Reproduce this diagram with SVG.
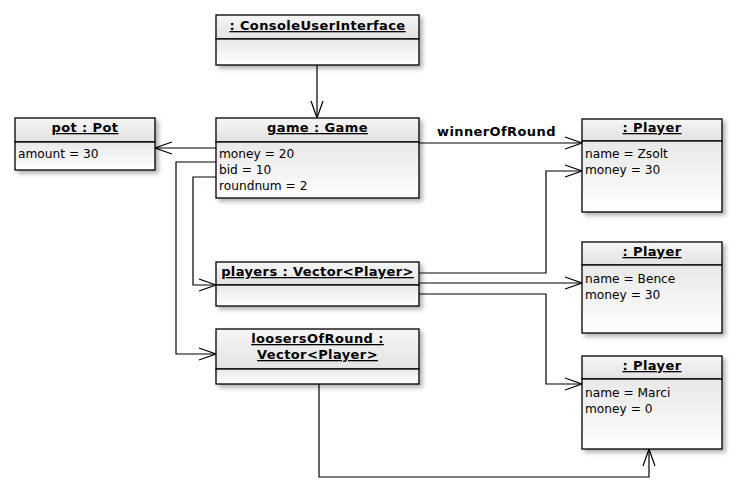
<svg xmlns="http://www.w3.org/2000/svg" width="737" height="501" viewBox="0 0 737 501">
<style>
.box{stroke:#000;stroke-width:1.3}
.hd{fill:url(#gh)}
.bd{fill:url(#gb)}
.title{font-family:"DejaVu Sans",Verdana,sans-serif;font-size:13px;letter-spacing:0.4px;font-weight:bold;text-decoration:underline;text-anchor:middle;fill:#000}
.attr{font-family:"DejaVu Sans",Verdana,sans-serif;font-size:12.2px;fill:#000}
.lbl{font-family:"DejaVu Sans",Verdana,sans-serif;font-size:13px;letter-spacing:0.4px;font-weight:bold;fill:#000}
.c{fill:none;stroke:#000;stroke-width:1.2}
</style>
<defs>
<linearGradient id="gh" x1="0" y1="0" x2="0" y2="1"><stop offset="0" stop-color="#f6f6f6"/><stop offset="1" stop-color="#e2e2e2"/></linearGradient>
<linearGradient id="gb" x1="0" y1="0" x2="0" y2="1"><stop offset="0" stop-color="#e8e8e8"/><stop offset="1" stop-color="#ffffff"/></linearGradient>
<filter id="sh" x="-10%" y="-10%" width="130%" height="140%"><feDropShadow dx="3" dy="3" stdDeviation="2" flood-color="#000" flood-opacity="0.3"/></filter>
<marker id="ar" viewBox="0 0 20 14" refX="18" refY="7" markerWidth="20" markerHeight="14" markerUnits="userSpaceOnUse" orient="auto"><path d="M1,1 L18,7 L1,13" fill="none" stroke="#000" stroke-width="1.2"/></marker>
</defs>
<rect width="737" height="501" fill="#fff"/>

<g id="connectors">
<path class="c" d="M317,65 V118" marker-end="url(#ar)"/>
<path class="c" d="M216,148 H155" marker-end="url(#ar)"/>
<path class="c" d="M216,162 H176 V354 H216" marker-end="url(#ar)"/>
<path class="c" d="M216,177 H193 V285 H216" marker-end="url(#ar)"/>
<path class="c" d="M419,143 H582" marker-end="url(#ar)"/>
<path class="c" d="M419,273 H546 V171 H582" marker-end="url(#ar)"/>
<path class="c" d="M419,283 H582" marker-end="url(#ar)"/>
<path class="c" d="M419,294 H546 V384 H582" marker-end="url(#ar)"/>
<path class="c" d="M319,384 V477 H649 V449" marker-end="url(#ar)"/>
<text class="lbl" x="437" y="136">winnerOfRound</text>
</g>

<g id="consoleUI">
<g filter="url(#sh)"><rect class="box hd" x="216" y="15" width="203" height="24"/><rect class="box bd" x="216" y="39" width="203" height="26"/></g>
<text class="title" x="317.5" y="30">: ConsoleUserInterface</text>
</g>

<g id="pot">
<g filter="url(#sh)"><rect class="box hd" x="15" y="118" width="140" height="24"/><rect class="box bd" x="15" y="142" width="140" height="28"/></g>
<text class="title" x="85" y="132">pot : Pot</text>
<text class="attr" x="18" y="158">amount = 30</text>
</g>

<g id="game">
<g filter="url(#sh)"><rect class="box hd" x="216" y="118" width="203" height="24"/><rect class="box bd" x="216" y="142" width="203" height="56"/></g>
<text class="title" x="317.5" y="132">game : Game</text>
<text class="attr" x="219" y="158">money = 20</text>
<text class="attr" x="219" y="174">bid = 10</text>
<text class="attr" x="219" y="190">roundnum = 2</text>
</g>

<g id="players">
<g filter="url(#sh)"><rect class="box hd" x="216" y="262" width="203" height="23"/><rect class="box bd" x="216" y="285" width="203" height="21"/></g>
<text class="title" x="317.5" y="276">players : Vector&lt;Player&gt;</text>
</g>

<g id="loosersOfRound">
<g filter="url(#sh)"><rect class="box hd" x="216" y="329" width="203" height="40"/><rect class="box bd" x="216" y="369" width="203" height="15"/></g>
<text class="title" x="317.5" y="343">loosersOfRound :</text>
<text class="title" x="317.5" y="359">Vector&lt;Player&gt;</text>
</g>

<g id="playerZsolt">
<g filter="url(#sh)"><rect class="box hd" x="582" y="119" width="140" height="22"/><rect class="box bd" x="582" y="141" width="140" height="71"/></g>
<text class="title" x="652" y="132">: Player</text>
<text class="attr" x="585" y="158">name = Zsolt</text>
<text class="attr" x="585" y="174">money = 30</text>
</g>

<g id="playerBence">
<g filter="url(#sh)"><rect class="box hd" x="582" y="242" width="140" height="23"/><rect class="box bd" x="582" y="265" width="140" height="68"/></g>
<text class="title" x="652" y="256">: Player</text>
<text class="attr" x="585" y="283">name = Bence</text>
<text class="attr" x="585" y="299">money = 30</text>
</g>

<g id="playerMarci">
<g filter="url(#sh)"><rect class="box hd" x="582" y="356" width="140" height="23"/><rect class="box bd" x="582" y="379" width="140" height="70"/></g>
<text class="title" x="652" y="370">: Player</text>
<text class="attr" x="585" y="397">name = Marci</text>
<text class="attr" x="585" y="413">money = 0</text>
</g>
</svg>
